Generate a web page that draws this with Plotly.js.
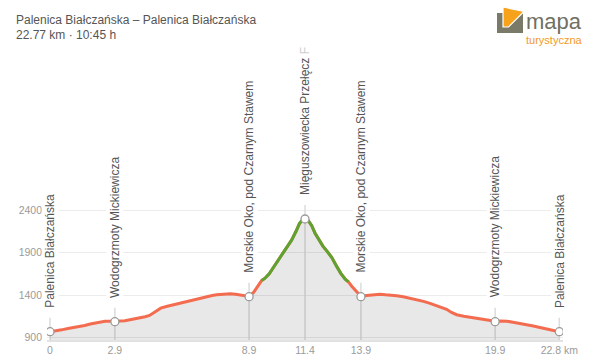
<!DOCTYPE html>
<html>
<head>
<meta charset="utf-8">
<script src="https://cdn.plot.ly/plotly-3.0.1.min.js"></script>
<style>html,body{margin:0;padding:0;background:#fff;}#chart{width:600px;height:362px;}</style>
</head>
<body>
<div id="chart"></div>
<script>
// ---- data ----
const titleText = 'Palenica Białczańska – Palenica Białczańska';
const subtitleText = '22.77 km · 10:45 h';

const distKm = [0.00,0.25,0.52,0.80,1.05,1.27,1.55,1.80,2.01,2.25,2.46,2.65,2.90,3.10,3.35,3.55,3.80,4.05,4.25,4.45,4.60,4.80,4.95,5.20,5.44,5.70,5.96,6.20,6.41,6.70,7.01,7.25,7.45,7.75,8.05,8.30,8.49,8.70,8.90,9.10,9.30,9.46,9.60,9.80,10.00,10.20,10.40,10.60,10.80,11.00,11.15,11.30,11.40,11.55,11.70,11.85,12.00,12.20,12.40,12.60,12.80,13.00,13.20,13.34,13.50,13.70,13.90,14.16,14.45,14.75,15.00,15.20,15.50,15.79,16.10,16.39,16.70,16.99,17.30,17.55,17.73,17.95,18.18,18.50,18.78,19.10,19.37,19.65,19.90,20.15,20.42,20.70,21.01,21.30,21.61,21.90,22.21,22.50,22.77];
const elevM  = [968,975,990,1005,1015,1030,1042,1058,1070,1082,1092,1090,1088,1095,1098,1108,1118,1133,1145,1160,1185,1225,1245,1265,1280,1298,1318,1335,1348,1365,1385,1395,1402,1410,1415,1408,1402,1398,1384,1430,1500,1570,1595,1650,1730,1810,1880,1955,2045,2150,2240,2288,2294,2275,2215,2127,2055,1975,1910,1840,1745,1655,1585,1555,1500,1440,1384,1393,1397,1410,1402,1400,1392,1380,1362,1349,1325,1302,1275,1255,1232,1195,1168,1150,1138,1120,1106,1095,1090,1095,1092,1080,1067,1052,1035,1018,1000,990,968];

const steepSection = [9.46, 13.34];   // km range drawn in green

const wpDist  = [0, 2.9, 8.9, 11.4, 13.9, 19.9, 22.77];
const wpElev  = [968, 1086, 1380, 2294, 1380, 1086, 968];
const wpNames = ['Palenica Białczańska','Wodogrzmoty Mickiewicza','Morskie Oko, pod Czarnym Stawem',
                 'Mięguszowiecka Przełęcz <span style="color:#cfcfcf">F</span>',
                 'Morskie Oko, pod Czarnym Stawem','Wodogrzmoty Mickiewicza','Palenica Białczańska'];

const xTickText = ['0','2.9','8.9','11.4','13.9','19.9','22.8 km'];
const yTickVals = [900, 1400, 1900, 2400];

const logoWord1 = 'mapa';
const logoWord2 = 'turystyczna';

// ---- layout geometry ----
const W = 600, H = 362;
const plotL = 47, plotR = 563, plotT = 200, plotB = 340;
const xRange = [-0.134, 22.934];
const yRange = [870.6, 2517.6];
const pxPerM = (plotB - plotT) / (yRange[1] - yRange[0]);
const px2paperX = px => (px - plotL) / (plotR - plotL);
const py2paperY = py => (plotB - py) / (plotB - plotT);

const ORANGE = '#f36c4f', GREEN = '#5ea22f';
const FONT = 'Liberation Sans, Arial, sans-serif';

// green subset
const gx = [], gy = [];
distKm.forEach((d, i) => { if (d >= steepSection[0] && d <= steepSection[1]) { gx.push(d); gy.push(elevM[i]); } });

const traces = [
  { x: distKm, y: elevM, type: 'scatter', mode: 'lines', fill: 'tozeroy',
    fillcolor: 'rgba(0,0,0,0.09)', line: { color: ORANGE, width: 3 }, hoverinfo: 'skip' },
  { x: gx, y: gy, type: 'scatter', mode: 'lines', line: { color: GREEN, width: 3 }, hoverinfo: 'skip' },
  { x: wpDist, y: wpElev, type: 'scatter', mode: 'markers',
    marker: { size: 8, color: '#ffffff', line: { color: '#9a9a9a', width: 1.3 } }, hoverinfo: 'skip' }
];

const shapes = wpDist.map((d, i) => ({
  type: 'line', xref: 'x', yref: 'y', x0: d, x1: d,
  y0: yRange[0], y1: wpElev[i] + 14 / pxPerM,
  line: { color: '#dcdcdc', width: 1.5 }, layer: 'between'
}));

// logo icon
const P = (x, y) => px2paperX(x).toFixed(5) + ',' + py2paperY(y).toFixed(5);
shapes.push({ type: 'path', xref: 'paper', yref: 'paper',
  path: 'M' + P(497,13) + ' L' + P(523,13) + ' L' + P(523,33) + ' L' + P(497,33) + ' Z',
  fillcolor: '#7a7a68', line: { width: 0 }, layer: 'above' });
shapes.push({ type: 'path', xref: 'paper', yref: 'paper',
  path: 'M' + P(503,7) + ' L' + P(524,11.5) + ' L' + P(508.5,27) + ' L' + P(503,27) + ' Z',
  fillcolor: '#f6a21a', line: { width: 1.2, color: '#ffffff' }, layer: 'above' });

const annotations = wpDist.map((d, i) => ({
  x: d, y: wpElev[i], xref: 'x', yref: 'y', text: wpNames[i], showarrow: false,
  textangle: -90, xanchor: 'center', yanchor: 'bottom', yshift: 22,
  font: { family: FONT, size: 12, color: '#555555' },
  bgcolor: '#ffffff', borderpad: 1
}));

annotations.push({ xref: 'paper', yref: 'paper', x: px2paperX(14), y: py2paperY(20), xanchor: 'left', yanchor: 'middle',
  text: titleText, showarrow: false, font: { family: FONT, size: 12, color: '#555555' } });
annotations.push({ xref: 'paper', yref: 'paper', x: px2paperX(14), y: py2paperY(35), xanchor: 'left', yanchor: 'middle',
  text: subtitleText, showarrow: false, font: { family: FONT, size: 12, color: '#555555' } });
// logo words as one two-line text block
annotations.push({ xref: 'paper', yref: 'paper', x: px2paperX(525), y: py2paperY(8), xanchor: 'left', yanchor: 'top',
  align: 'left', showarrow: false, borderpad: 0,
  text: '<span style="font-size:22px;color:#707062">' + logoWord1 + '</span><br>' +
        '<span style="font-size:11px;color:#f39a1e">' + logoWord2 + '</span>',
  font: { family: FONT, size: 11.5, color: '#707062' } });

const layout = {
  width: W, height: H,
  margin: { l: plotL, r: W - plotR, t: plotT, b: H - plotB, pad: 0 },
  paper_bgcolor: '#ffffff', plot_bgcolor: '#ffffff',
  showlegend: false,
  xaxis: { range: xRange, tickmode: 'array', tickvals: wpDist, ticktext: xTickText,
    showgrid: false, zeroline: false, showline: true, linecolor: '#e2e2e2', linewidth: 1.5,
    ticks: '', tickfont: { family: FONT, size: 10.5, color: '#9a9a9a' }, fixedrange: true },
  yaxis: { range: yRange, tickmode: 'array', tickvals: yTickVals, showgrid: true, gridcolor: '#ececec', gridwidth: 1,
    zeroline: false, showline: false, ticks: '', ticklabelstandoff: 4,
    tickfont: { family: FONT, size: 10.5, color: '#9a9a9a' }, fixedrange: true },
  shapes: shapes, annotations: annotations
};

Plotly.newPlot('chart', traces, layout, { displayModeBar: false, staticPlot: true });
</script>
</body>
</html>
